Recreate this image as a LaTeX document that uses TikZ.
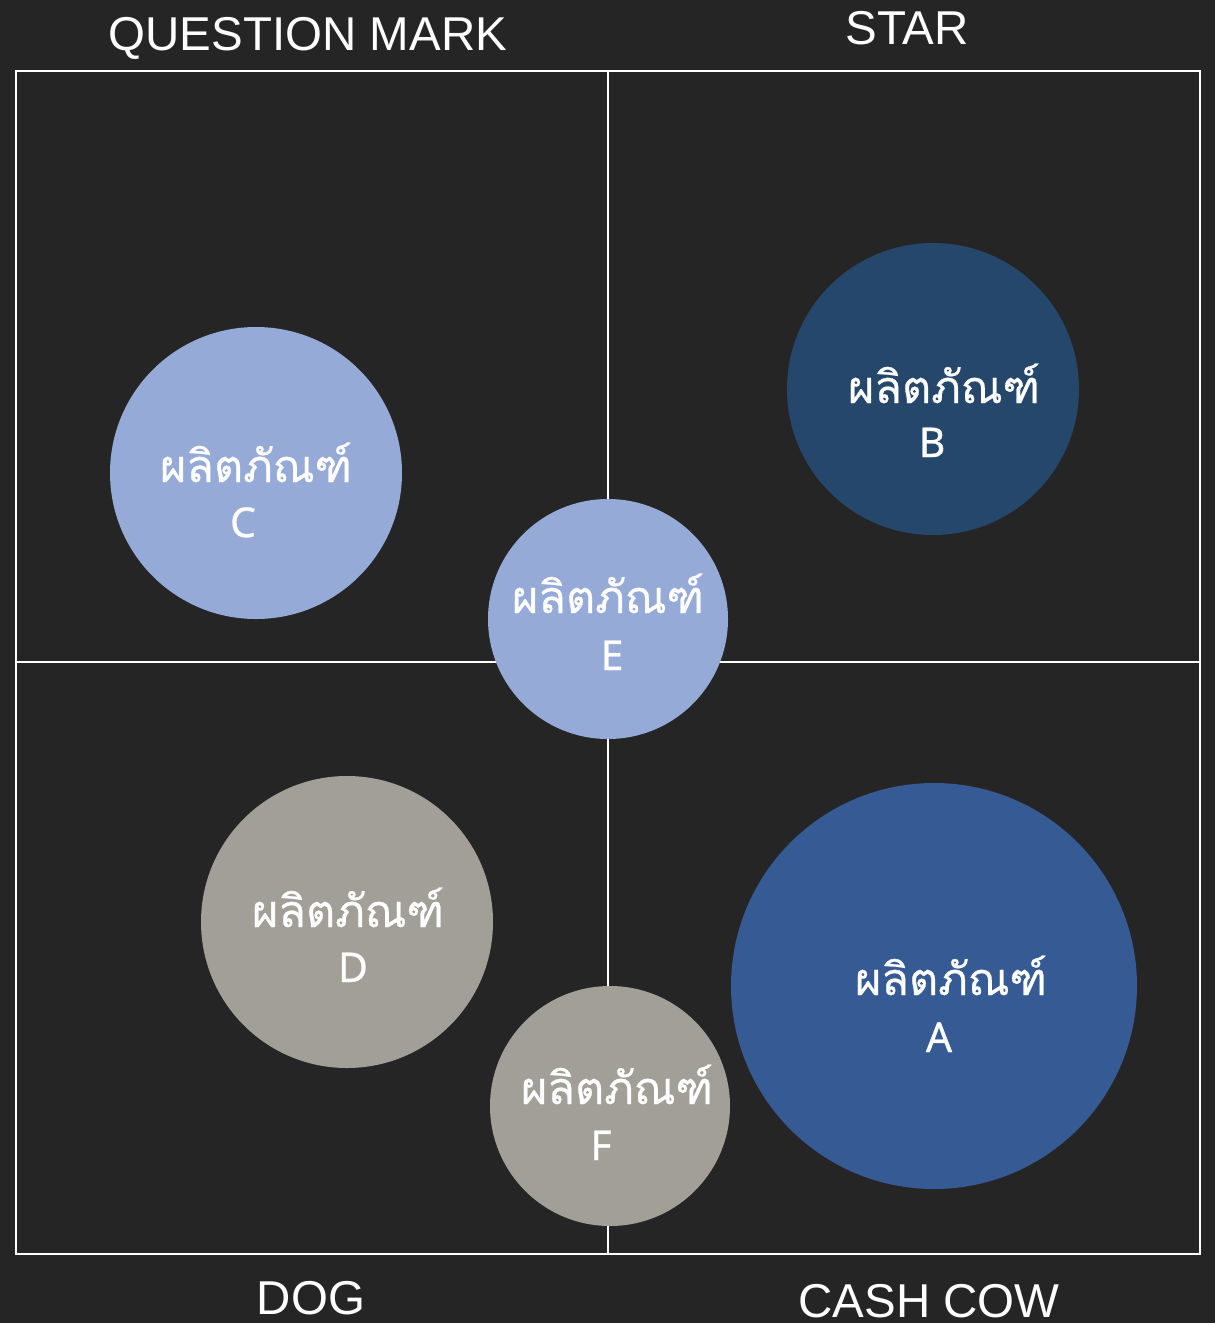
\documentclass[tikz,border=0pt]{standalone}
\usepackage{fontspec}
\setmainfont{Liberation Sans}
\newfontfamily\thaifont[Script=Thai,FakeBold=0.6]{Loma}
\newfontfamily\letfont[FakeBold=0.7]{Noto Sans}
\definecolor{bgc}{HTML}{252525}
\definecolor{lightb}{HTML}{95AAD7}
\definecolor{darkb}{HTML}{25476B}
\definecolor{midb}{HTML}{355A94}
\definecolor{greyc}{HTML}{A19F98}
\tikzset{
  quad/.style={draw=white,line width=2pt},
  bubble/.style={circle,inner sep=0pt,draw=none},
  thaitxt/.style={anchor=base,text=white,font=\thaifont\fontsize{45}{45}\selectfont,inner sep=0pt},
  lettxt/.style={anchor=base,text=white,font=\letfont\fontsize{41}{41}\selectfont,inner sep=0pt},
  catlabel/.style={anchor=base,text=white,font=\fontsize{47.5}{47.5}\selectfont,inner sep=0pt}
}
\begin{document}
\begin{tikzpicture}[x=1pt,y=-1pt]
\useasboundingbox (0,0) rectangle (1215,1323);
\clip (0,0) rectangle (1215,1323);
\fill[bgc] (0,0) rectangle (1215,1323);
\coordinate (tl) at (16,71);
\coordinate (br) at (1200,1254);
\coordinate (mt) at (608,71);
\coordinate (mb) at (608,1254);
\coordinate (ml) at (16,662);
\coordinate (mr) at (1200,662);
\draw[quad] (tl) rectangle (br);
\draw[quad] (mt) -- (mb);
\draw[quad] (ml) -- (mr);
\node[catlabel] (qm) at (308,50) {QUESTION MARK};
\node[catlabel] (st) at (907,44) {STAR};
\node[catlabel] (dg) at (311,1314) {DOG};
\node[catlabel] (cc) at (929,1317) {CASH COW};
\node[bubble,fill=lightb,minimum size=292pt] (cC) at (256,473) {};
\node[bubble,fill=darkb,minimum size=292pt] (cB) at (933,389) {};
\node[bubble,fill=lightb,minimum size=240pt] (cE) at (608,619) {};
\node[bubble,fill=greyc,minimum size=292pt] (cD) at (347,922) {};
\node[bubble,fill=greyc,minimum size=240pt] (cF) at (610,1106) {};
\node[bubble,fill=midb,minimum size=406pt] (cA) at (934,986) {};
\node[thaitxt] (tC) at (256,482) {ผลิตภัณฑ์};
\node[lettxt] (lC) at (243,537) {C};
\node[thaitxt] (tB) at (944,403) {ผลิตภัณฑ์};
\node[lettxt] (lB) at (932,457) {B};
\node[thaitxt] (tE) at (608,613) {ผลิตภัณฑ์};
\node[lettxt] (lE) at (612,670) {E};
\node[thaitxt] (tD) at (348,927) {ผลิตภัณฑ์};
\node[lettxt] (lD) at (353,982) {D};
\node[thaitxt] (tF) at (617,1104) {ผลิตภัณฑ์};
\node[lettxt] (lF) at (601,1160) {F};
\node[thaitxt] (tA) at (951,995) {ผลิตภัณฑ์};
\node[lettxt] (lA) at (939,1052) {A};
\end{tikzpicture}
\end{document}
